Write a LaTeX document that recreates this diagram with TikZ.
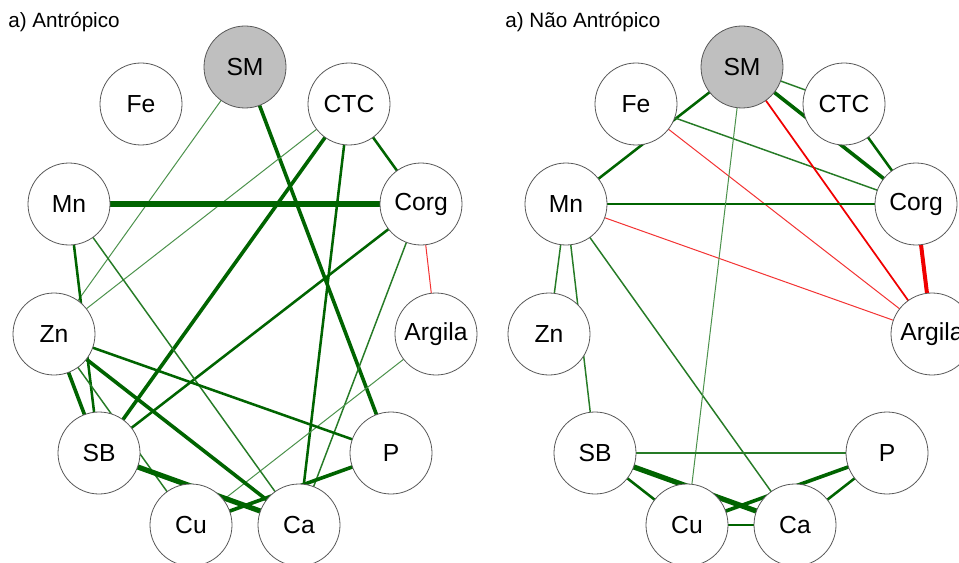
\documentclass[tikz,border=0pt]{standalone}
\usepackage{fontspec}
\setmainfont{Liberation Sans}
\pgfdeclarelayer{bg}
\pgfsetlayers{bg,main}
\definecolor{eg}{RGB}{0,100,0}
\definecolor{er}{RGB}{240,0,0}
\begin{document}
\begin{tikzpicture}[x=0.75pt,y=-0.75pt,
  vnode/.style={circle,draw=black!65,line width=0.6pt,fill=white,minimum size=61.5pt,inner sep=0pt,font=\fontsize{18.5}{20}\selectfont},
  snode/.style={vnode,fill=black!25},
  ttl/.style={anchor=base west,inner sep=0pt,font=\fontsize{15.5}{17}\selectfont},
  g1/.style={draw=eg!70!white,line width=0.75pt},
  g2/.style={draw=eg!85!white,line width=1.1pt},
  g3/.style={draw=eg,line width=1.9pt},
  g4/.style={draw=eg,line width=2.7pt},
  g5/.style={draw=eg,line width=3.9pt},
  r1/.style={draw=er!80!white,line width=0.75pt},
  r2/.style={draw=er,line width=1.3pt},
  r4/.style={draw=er,line width=3pt}]
\useasboundingbox (0,0) rectangle (959,563);
% titles
\node[ttl] (t1) at (8,28) {a) Antrópico};
\node[ttl] (t2) at (505,28) {a) Não Antrópico};
% left graph nodes
\node[snode] (aSM) at (245,67) {SM};
\node[vnode] (aFe) at (141,104) {Fe};
\node[vnode] (aCTC) at (349,104) {CTC};
\node[vnode] (aMn) at (69,204) {Mn};
\node[vnode] (aCorg) at (421,204) {Corg};
\node[vnode] (aZn) at (54,334) {Zn};
\node[vnode] (aArg) at (436,334) {Argila};
\node[vnode] (aSB) at (99,453) {SB};
\node[vnode] (aP) at (391,453) {P};
\node[vnode] (aCu) at (191,525) {Cu};
\node[vnode] (aCa) at (299,525) {Ca};
% right graph nodes
\node[snode] (bSM) at (742,67) {SM};
\node[vnode] (bFe) at (636,104) {Fe};
\node[vnode] (bCTC) at (844,104) {CTC};
\node[vnode] (bMn) at (566,204) {Mn};
\node[vnode] (bCorg) at (916,204) {Corg};
\node[vnode] (bZn) at (549,334) {Zn};
\node[vnode] (bArg) at (932,334) {Argila};
\node[vnode] (bSB) at (595,453) {SB};
\node[vnode] (bP) at (887,453) {P};
\node[vnode] (bCu) at (687,525) {Cu};
\node[vnode] (bCa) at (795,525) {Ca};
\begin{pgfonlayer}{bg}
\fill[white] (0,0) rectangle (959,563);
% left edges
\draw[g1] (aSM.center) -- (aZn.center);
\draw[g4] (aSM.center) -- (aP.center);
\draw[g1] (aCTC.center) -- (aZn.center);
\draw[g4] (aCTC.center) -- (aSB.center);
\draw[g3] (aCTC.center) -- (aCa.center);
\draw[g3] (aCTC.center) -- (aCorg.center);
\draw[g5] (aMn.center) -- (aCorg.center);
\draw[g3] (aCorg.center) -- (aSB.center);
\draw[g2] (aCorg.center) -- (aCa.center);
\draw[r1] (aCorg.center) -- (aArg.center);
\draw[g1] (aArg.center) -- (aCu.center);
\draw[g3] (aMn.center) -- (aSB.center);
\draw[g2] (aMn.center) -- (aCa.center);
\draw[g4] (aZn.center) -- (aSB.center);
\draw[g4] (aZn.center) -- (aCa.center);
\draw[g3] (aZn.center) -- (aP.center);
\draw[g2] (aZn.center) -- (aCu.center);
\draw[g5] (aSB.center) -- (aCa.center);
\draw[g4] (aCu.center) -- (aP.center);
% right edges
\draw[g2] (bSM.center) -- (bCTC.center);
\draw[g4] (bSM.center) -- (bCorg.center);
\draw[g3] (bCTC.center) -- (bCorg.center);
\draw[g3] (bSM.center) -- (bMn.center);
\draw[g2] (bFe.center) -- (bCorg.center);
\draw[r1] (bFe.center) -- (bArg.center);
\draw[r2] (bSM.center) -- (bArg.center);
\draw[r4] (bCorg.center) -- (bArg.center);
\draw[g3] (bMn.center) -- (bCorg.center);
\draw[r1] (bMn.center) -- (bArg.center);
\draw[g2] (bMn.center) -- (bZn.center);
\draw[g2] (bMn.center) -- (bSB.center);
\draw[g2] (bMn.center) -- (bCa.center);
\draw[g1] (bSM.center) -- (bCu.center);
\draw[g2] (bSB.center) -- (bP.center);
\draw[g5] (bSB.center) -- (bCa.center);
\draw[g3] (bSB.center) -- (bCu.center);
\draw[g4] (bCu.center) -- (bP.center);
\draw[g3] (bCu.center) -- (bCa.center);
\draw[g3] (bCa.center) -- (bP.center);
\end{pgfonlayer}
\end{tikzpicture}
\end{document}
